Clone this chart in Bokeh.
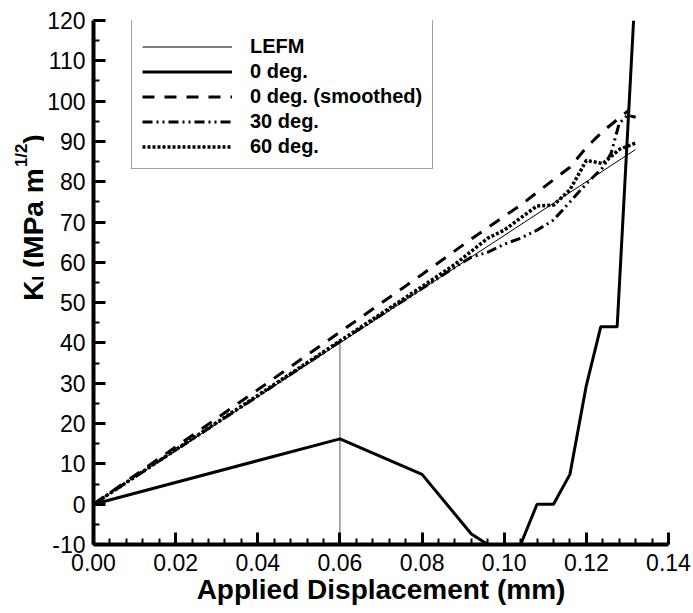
from math import pi
from bokeh.plotting import figure
from bokeh.layouts import row
from bokeh.models import (Range1d, FixedTicker, PrintfTickFormatter, Legend,
                          LegendItem, Label)
from bokeh.embed import file_html
from bokeh.resources import INLINE

# ---------------- data ----------------
x_ticks = [0.00, 0.02, 0.04, 0.06, 0.08, 0.10, 0.12, 0.14]
y_ticks = [-10, 0, 10, 20, 30, 40, 50, 60, 70, 80, 90, 100, 110, 120]

lefm_x = [0.0, 0.132]
lefm_y = [0.0, 88.0]

crit_x = [0.06, 0.06]
crit_y = [40.0, -10.0]

deg0_x = [0.0, 0.06, 0.08, 0.092, 0.096, 0.104, 0.108, 0.112, 0.116, 0.120,
          0.1235, 0.1275, 0.1315]
deg0_y = [0.0, 16.2, 7.4, -7.4, -10.0, -10.0, 0.0, 0.0, 7.4, 29.5,
          44.0, 44.0, 120.0]

sm_x = [0.0, 0.02, 0.04, 0.06, 0.08, 0.092, 0.104, 0.112, 0.116, 0.120,
        0.124, 0.1303]
sm_y = [0.0, 14.2, 28.4, 42.7, 57.0, 65.8, 74.2, 80.5, 83.6, 88.5,
        92.5, 97.7]

d30_x = [0.0, 0.02, 0.04, 0.06, 0.08, 0.088, 0.092, 0.096, 0.100, 0.104,
         0.108, 0.112, 0.116, 0.120, 0.124, 0.126, 0.128, 0.130, 0.132]
d30_y = [0.0, 13.4, 26.8, 40.3, 53.5, 58.8, 61.3, 62.5, 64.5, 66.0,
         68.0, 70.5, 75.0, 79.5, 83.5, 87.0, 94.5, 96.5, 96.0]

d60_x = [0.0, 0.02, 0.04, 0.06, 0.08, 0.088, 0.096, 0.100, 0.104, 0.108,
         0.112, 0.116, 0.120, 0.124, 0.128, 0.132]
d60_y = [0.0, 13.5, 27.0, 40.5, 54.0, 59.5, 66.0, 68.0, 71.0, 74.0,
         74.2, 78.0, 85.3, 84.5, 88.0, 89.6]

legend_labels = ["LEFM", "0 deg.", "0 deg. (smoothed)", "30 deg.", "60 deg."]
x_title = "Applied Displacement (mm)"
# y title pieces: text, relative size, baseline shift (em), advance (em)
y_title = [("K", 1.0, 0.0, 0.722), ("I", 0.6, -0.18, 0.278 + 0.278 / 0.6),
           ("(MPa m", 1.0, 0.0, 3.556 + 0.05), ("1/2", 0.6, 0.42, 1.390),
           (")", 1.0, 0.0, 0.333)]

# ---------------- geometry ----------------
FONT = "Liberation Sans"
H = 613
YW = 44            # width of the y-title strip
MW = 693 - YW      # width of the main figure

p = figure(width=MW, height=H, output_backend="svg", toolbar_location=None,
           x_range=Range1d(0.0, 0.14), y_range=Range1d(-10, 120),
           min_border_left=93 - YW, min_border_right=25, min_border_top=20,
           min_border_bottom=69)
p.outline_line_color = None
p.xgrid.visible = False
p.ygrid.visible = False

r_lefm = p.line(lefm_x, lefm_y, line_color="black", line_width=1)
p.line(crit_x, crit_y, line_color="#555555", line_width=1)
r_0 = p.line(deg0_x, deg0_y, line_color="black", line_width=3)
r_sm = p.line(sm_x, sm_y, line_color="black", line_width=3, line_dash="12 10")
r_30 = p.line(d30_x, d30_y, line_color="black", line_width=3,
              line_dash="10 4 2 4 2 4")
r_60 = p.line(d60_x, d60_y, line_color="black", line_width=3.5,
              line_dash="3 2")

# axes
minor_x = [i * 0.004 for i in range(36)]
minor_y = [-10 + 5 * i for i in range(27)]
p.xaxis.ticker = FixedTicker(ticks=x_ticks, minor_ticks=minor_x)
p.yaxis.ticker = FixedTicker(ticks=y_ticks, minor_ticks=minor_y)
p.xaxis.formatter = PrintfTickFormatter(format="%.2f")
p.yaxis.formatter = PrintfTickFormatter(format="%d")

for ax in (p.xaxis, p.yaxis):
    ax.axis_line_width = 4
    ax.axis_line_color = "black"
    ax.major_tick_line_width = 3
    ax.minor_tick_line_width = 2
    ax.major_tick_in = 12
    ax.major_tick_out = 0
    ax.minor_tick_in = 6
    ax.minor_tick_out = 0
    ax.major_label_text_font = FONT
    ax.major_label_text_font_size = "23px"
    ax.major_label_text_color = "black"
p.xaxis.major_label_standoff = 9
p.yaxis.major_label_standoff = 8

LAB = 28
p.xaxis.axis_label = x_title
p.xaxis.axis_label_text_font = FONT
p.xaxis.axis_label_text_font_size = f"{LAB}px"
p.xaxis.axis_label_text_font_style = "bold"
p.xaxis.axis_label_text_color = "black"
p.xaxis.axis_label_standoff = 0

# legend
legend = Legend(items=[LegendItem(label=legend_labels[0], renderers=[r_lefm]),
                       LegendItem(label=legend_labels[1], renderers=[r_0]),
                       LegendItem(label=legend_labels[2], renderers=[r_sm]),
                       LegendItem(label=legend_labels[3], renderers=[r_30]),
                       LegendItem(label=legend_labels[4], renderers=[r_60])],
                location=(38, 375), orientation="vertical",
                title=" ", title_text_font_size="4px", title_standoff=3,
                glyph_width=90, glyph_height=23, label_height=23,
                label_standoff=18, spacing=2, padding=10, margin=0,
                label_text_font=FONT, label_text_font_size="20px",
                label_text_font_style="bold", label_text_color="black",
                border_line_color="#444444", border_line_width=1,
                background_fill_color="white", background_fill_alpha=1.0)
p.add_layout(legend, "center")

# ---------------- y title strip: K_I (MPa m^1/2) ----------------
yt = figure(width=YW, height=H, output_backend="svg", toolbar_location=None,
            x_axis_location=None, y_axis_location=None, min_border=0,
            x_range=Range1d(0, YW), y_range=Range1d(0, H))
yt.outline_line_color = None
yt.xgrid.visible = False
yt.ygrid.visible = False

total = sum(s * w for _, s, _, w in y_title) * LAB
base_x = 33
ypos = (H - 286) - total / 2
for txt, s, shift, w in y_title:
    yt.add_layout(Label(x=base_x - shift * LAB, y=ypos, x_units="screen",
                        y_units="screen", text=txt, angle=pi / 2,
                        text_font=FONT, text_font_size=f"{LAB * s:.1f}px",
                        text_font_style="bold", text_align="left",
                        text_baseline="alphabetic", text_color="black"))
    ypos += s * w * LAB

layout = row(yt, p)
open("out.html", "w").write(file_html(layout, INLINE))
